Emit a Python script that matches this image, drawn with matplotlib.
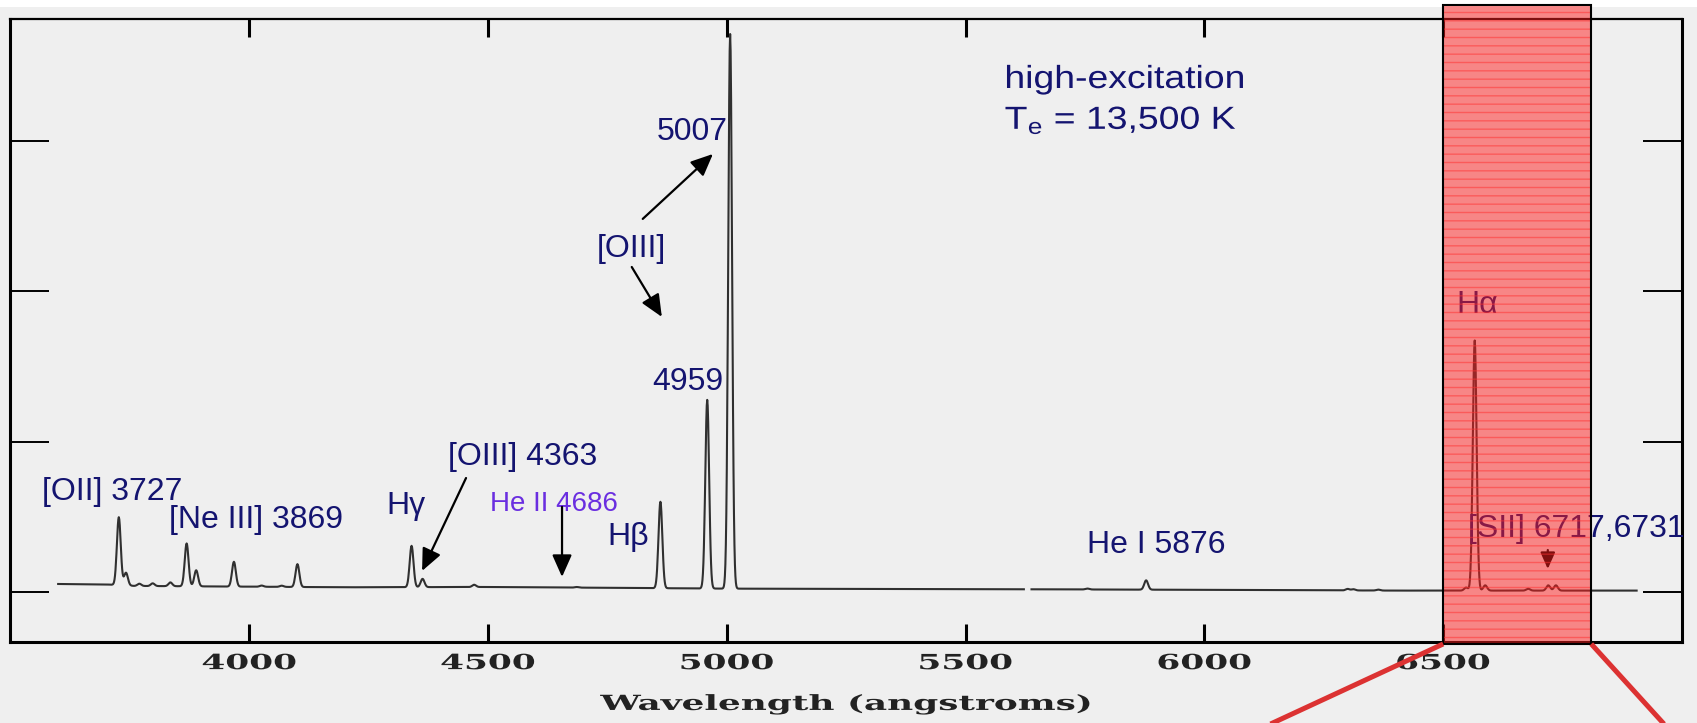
import matplotlib.pyplot as plt
import numpy as np
from matplotlib.patches import Rectangle
from matplotlib.path import Path
from matplotlib.patheffects import AbstractPathEffect
from matplotlib.transforms import Affine2D

plt.rcParams['font.family'] = 'Liberation Sans'
plt.rcParams['mathtext.fontset'] = 'custom'
plt.rcParams['mathtext.rm'] = 'Liberation Sans'
plt.rcParams['mathtext.it'] = 'Liberation Sans'

# emission lines: wavelength (angstroms) and peak height above the continuum
line_wl = [3727, 3742, 3770, 3798, 3835, 3869, 3889, 3968, 4026, 4068,
           4101, 4340, 4363, 4471, 4686, 4861, 4959, 5007, 5755, 5878,
           6300, 6312, 6364, 6548, 6566, 6588, 6678, 6720, 6736]
line_peak = [0.452, 0.085, 0.015, 0.018, 0.025, 0.285, 0.107, 0.165, 0.008, 0.008,
             0.152, 0.275, 0.055, 0.015, 0.004, 0.575, 1.255, 3.69, 0.006, 0.062,
             0.010, 0.008, 0.006, 0.020, 1.664, 0.035, 0.012, 0.035, 0.035]
line_sigma = 4.0

# continuum level
cont_wl = [3600, 3700, 3760, 4200, 4500, 5000, 5600, 6000, 6400, 6905]
cont_flux = [0.053, 0.050, 0.040, 0.031, 0.033, 0.022, 0.018, 0.014, 0.009, 0.009]

spec_range = (3600, 6905)
gap_wl = (5622, 5638)
zoom_band = (6500, 6810)

xticks = [4000, 4500, 5000, 5500, 6000, 6500]
yticks = [0, 1, 2, 3]

navy = '#141470'
purple = '#6a2ee0'
bg = '#efefef'


class HStretch(AbstractPathEffect):
    """draw text paths widened horizontally"""
    def __init__(self, sx, anchor='center'):
        super().__init__()
        self.sx = sx
        self.anchor = anchor

    def draw_path(self, renderer, gc, tpath, affine, rgbFace=None):
        verts = tpath.vertices
        if len(verts) == 0:
            return
        if tpath.codes is not None:
            verts = verts[tpath.codes != Path.CLOSEPOLY]
        xs = affine.transform(verts)[:, 0]
        if self.anchor == 'left':
            x0 = xs.min()
        else:
            x0 = 0.5 * (xs.min() + xs.max())
        st = Affine2D().translate(-x0, 0).scale(self.sx, 1.0).translate(x0, 0)
        renderer.draw_path(gc, tpath, affine + st, rgbFace)


# build the spectrum
wl = np.arange(spec_range[0], spec_range[1] + 1, 1.0)
flux = np.interp(wl, cont_wl, cont_flux)
for c, h in zip(line_wl, line_peak):
    flux = flux + h * np.exp(-0.5 * ((wl - c) / line_sigma) ** 2)
flux[(wl > gap_wl[0]) & (wl < gap_wl[1])] = np.nan

fig = plt.figure(figsize=(16.97, 7.23), dpi=100, facecolor=bg)
fig.patches.append(Rectangle((0, 716 / 723), 1, 7 / 723, transform=fig.transFigure,
                             facecolor='white', edgecolor='none', zorder=-1))
ax = fig.add_axes([10.4 / 1697, 81 / 723, 1671.6 / 1697, 623 / 723])
ax.set_facecolor(bg)

ax.plot(wl, flux, color='#303030', lw=1.5)

ax.set_xlim(3500, 7000)
ax.set_ylim(-0.333, 3.812)
ax.set_xticks(xticks)
ax.set_xticklabels([str(t) for t in xticks], fontfamily='DejaVu Serif',
                   fontweight='bold', fontsize=15, color='#222222')
ax.set_yticks(yticks)
ax.tick_params(axis='x', direction='in', length=13, width=2.2, top=True,
               bottom=True, pad=8)
ax.tick_params(axis='y', direction='in', length=28, width=1.4, left=True,
               right=True, labelleft=False)
for s in ax.spines.values():
    s.set_linewidth(2.2)
ax.spines['top'].set_linewidth(1.6)

ax.set_xlabel('Wavelength (angstroms)', fontfamily='DejaVu Serif',
              fontweight='bold', fontsize=15, color='#222222', labelpad=15)
ax.xaxis.label.set_path_effects([HStretch(1.72)])
for lab in ax.get_xticklabels():
    lab.set_path_effects([HStretch(1.65)])

# line labels
kw = dict(color=navy, fontsize=23, ha='left', va='baseline')
ax.text(3566, 0.612, '[OII] 3727', **kw)
ax.text(3832, 0.426, '[Ne III] 3869', **kw)
ax.text(4288, 0.519, 'H\u03b3', **kw)
ax.text(4416, 0.845, '[OIII] 4363', **kw)
ax.text(4504, 0.539, 'He II 4686', color=purple, fontsize=20, ha='left', va='baseline')
ax.text(4749, 0.313, 'H\u03b2', **kw)
ax.text(4853, 3.007, '5007', **kw)
ax.text(4728, 2.229, '[OIII]', **kw)
ax.text(4843, 1.344, '4959', **kw)
ax.text(5754, 0.259, 'He I 5876', **kw)
ax.text(6527, 1.856, 'H\u03b1', **kw)
ax.text(6552, 0.366, '[SII] 6717,6731', **kw)

t1 = ax.text(5582, 3.353, 'high-excitation', **kw)
t2 = ax.text(5582, 3.081, r'T$_{\mathrm{e}}$ = 13,500 K', **kw)
for t in (t1, t2):
    t.set_path_effects([HStretch(1.17, anchor='left')])


def arrow(x0, y0, x1, y1, ms=30, lw=1.6):
    ax.annotate('', xy=(x1, y1), xytext=(x0, y0),
                arrowprops=dict(arrowstyle='-|>,head_length=0.45,head_width=0.2',
                                color='black', lw=lw, shrinkA=0, shrinkB=0,
                                mutation_scale=ms))


arrow(4454, 0.758, 4362, 0.140)
arrow(4655, 0.566, 4655, 0.100)
arrow(4824, 2.482, 4971, 2.914)
arrow(4801, 2.162, 4864, 1.830)
arrow(6719, 0.279, 6719, 0.153, ms=22)

# highlighted H-alpha / [SII] band
band_w = zoom_band[1] - zoom_band[0]
ax.add_patch(Rectangle((zoom_band[0], -0.346), band_w, 4.252,
                       facecolor='#ff1e1e', alpha=0.5, edgecolor='none',
                       zorder=6, clip_on=False))
ax.add_patch(Rectangle((zoom_band[0], -0.346), band_w, 4.252,
                       facecolor='none', edgecolor='#ff3030', hatch='--', lw=0,
                       alpha=0.5, zorder=6, clip_on=False))
ax.add_patch(Rectangle((zoom_band[0], -0.346), band_w, 4.252,
                       facecolor='none', edgecolor='black', lw=1.5,
                       zorder=7, clip_on=False))
ax.plot([zoom_band[0], 6056], [-0.346, -1.0], color='#dc3232', lw=3.6,
        clip_on=False, zorder=7, solid_capstyle='butt')
ax.plot([zoom_band[1], 6997], [-0.346, -1.0], color='#dc3232', lw=3.6,
        clip_on=False, zorder=7, solid_capstyle='butt')

fig.savefig('out.png', dpi=100, facecolor=fig.get_facecolor())
